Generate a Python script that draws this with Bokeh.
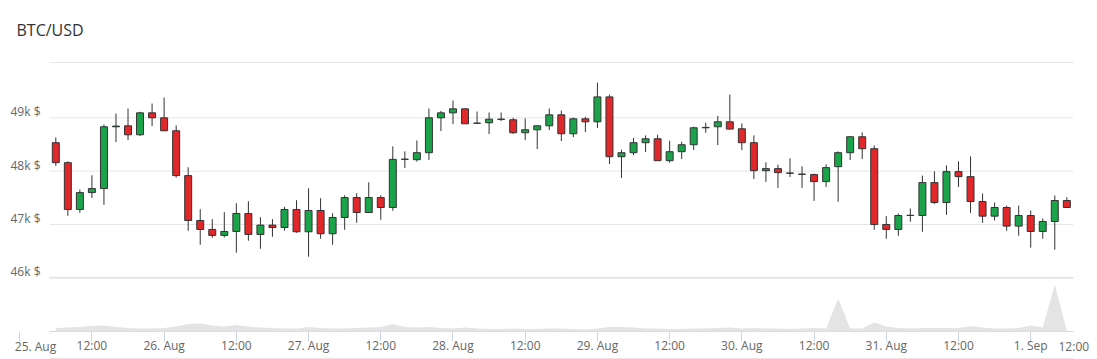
import pandas as pd
from bokeh.plotting import figure
from bokeh.models import Range1d, FixedTicker, CustomJSTickFormatter, ColumnDataSource
from bokeh.embed import file_html
from bokeh.resources import INLINE
from bokeh.core.properties import value

# ---------------- data ----------------
title_text = "BTC/USD"
first_candle = "2021-08-25 06:00"
candle_hours = 2

opens = [48533, 48159, 47281, 47598, 47673, 48832, 48850, 48682, 49093, 49000,
         48757, 47916, 47075, 46907, 46795, 46869, 47206, 46813, 46988, 46944,
         47281, 46863, 47262, 46826, 47131, 47505, 47224, 47505, 47318, 48221,
         48215, 48346, 49000, 49093, 49168, 48898, 48907, 48970, 48963, 48720,
         48776, 48850, 49056, 48701, 48981, 48925, 49392, 48271, 48346, 48533,
         48607, 48196, 48365, 48495, 48813, 48832, 48925, 48794, 48533, 48009,
         48047, 47965, 47945, 47935, 47804, 48084, 48346, 48645, 48421, 47000,
         46907, 47168, 47168, 47785, 47411, 47991, 47897, 47430, 47156, 47318,
         46969, 47168, 46869, 47056, 47449]
highs = [48632, 48184, 47654, 47922, 48875, 49081, 49174, 49112, 49268, 49380,
         48857, 48072, 47287, 47100, 47231, 47399, 47436, 47137, 47100, 47330,
         47455, 47679, 47492, 47212, 47548, 47586, 47791, 47548, 48464, 48371,
         48576, 49174, 49131, 49324, 49170, 49118, 49100, 49100, 49000, 48988,
         48855, 49174, 49137, 49006, 49019, 49660, 49436, 48402, 48626, 48670,
         48682, 48570, 48551, 48832, 48907, 49037, 49436, 48894, 48670, 48165,
         48122, 48240, 48090, 47953, 48128, 48371, 48650, 48726, 48483, 47156,
         47206, 47299, 47916, 47997, 48109, 48184, 48277, 47580, 47411, 47355,
         47355, 47262, 47112, 47542, 47511]
lows = [48097, 47162, 47218, 47499, 47368, 48545, 48583, 48657, 48844, 48750,
        47879, 46882, 46620, 46751, 46757, 46471, 46695, 46545, 46770, 46882,
        46844, 46396, 46732, 46620, 46900, 47031, 47224, 47087, 47256, 48059,
        48178, 48209, 48751, 48882, 48885, 48888, 48695, 48938, 48695, 48583,
        48414, 48770, 48564, 48639, 48732, 48807, 48134, 47872, 48302, 48358,
        48196, 48159, 48227, 48396, 48720, 48489, 48788, 48396, 47854, 47798,
        47686, 47891, 47686, 47442, 47704, 47424, 48209, 48227, 46900, 46732,
        46788, 47050, 46863, 47386, 47181, 47704, 47218, 47031, 47075, 46882,
        46788, 46564, 46732, 46527, 47318]
closes = [48159, 47281, 47598, 47673, 48832, 48845, 48682, 49093, 49000, 48757,
          47916, 47075, 46907, 46795, 46869, 47206, 46813, 46988, 46944, 47281,
          46863, 47262, 46826, 47131, 47505, 47224, 47505, 47318, 48221, 48225,
          48346, 49000, 49093, 49168, 48888, 48900, 48975, 48975, 48720, 48776,
          48850, 49056, 48701, 48981, 48925, 49392, 48271, 48346, 48533, 48607,
          48196, 48365, 48495, 48813, 48820, 48925, 48788, 48533, 48009, 48047,
          47972, 47960, 47940, 47804, 48066, 48346, 48645, 48421, 47000, 46907,
          47168, 47172, 47785, 47411, 47991, 47897, 47430, 47156, 47318, 46969,
          47168, 46869, 47056, 47449, 47318]
volumes = [140, 160, 180, 220, 240, 180, 140, 120, 120, 140,
           200, 300, 320, 240, 200, 260, 200, 160, 140, 120,
           120, 180, 140, 120, 120, 140, 160, 180, 300, 180,
           160, 180, 140, 120, 160, 120, 100, 100, 120, 100,
           100, 120, 120, 100, 80, 120, 180, 180, 160, 120,
           120, 100, 100, 120, 120, 140, 160, 120, 140, 120,
           120, 100, 120, 140, 120, 1320, 120, 120, 360, 200,
           140, 120, 140, 140, 140, 140, 220, 160, 120, 120,
           140, 240, 160, 1880, 40]
price_grid = [46000, 47000, 48000, 49000]
x_tick_times = pd.date_range("2021-08-25 00:00", "2021-09-01 00:00", freq="12h", tz="UTC")
edge_labels = ["25. Aug", "12:00"]

# ---------------- pixel <-> data helpers (layout only) ----------------
HOUR = 3600 * 1000.0
T0 = pd.Timestamp(first_candle, tz="UTC").value / 1e6
PX_PER_HOUR = 6.018
PX_PER_K = 53.33          # px per 1000 USD
VOL_PER_PX = 40.0
W, H = 1097, 359

def tx(px):   # page x -> time (ms)
    return T0 + (px - 55.3) / PX_PER_HOUR * HOUR

def py(ypx):  # page y -> price
    return 46000 + (277.3 - ypx) / PX_PER_K * 1000

def vy(ypx):  # page y -> volume units
    return (331 - ypx) * VOL_PER_PX

times = [t.value / 1e6 for t in pd.date_range(pd.Timestamp(first_candle, tz="UTC"),
                                                periods=len(opens), freq=f"{candle_hours}h")]
up = [c >= o for o, c in zip(opens, closes)]
src = ColumnDataSource(dict(
    t=times, o=opens, h=highs, l=lows, c=closes, v=volumes,
    top=[max(o, c) for o, c in zip(opens, closes)],
    bot=[min(o, c) for o, c in zip(opens, closes)],
    col=["#1aa34a" if u else "#e0282b" for u in up],
))

p = figure(width=W, height=H, x_axis_type="datetime", title=None,
           x_range=Range1d(tx(0), tx(W)), y_range=Range1d(py(H), py(0)),
           output_backend="svg", toolbar_location=None, min_border=0)
p.extra_y_ranges = {"vol": Range1d(vy(H), vy(0))}
p.outline_line_color = None
p.background_fill_color = "white"
p.border_fill_color = "white"
p.xgrid.visible = False
p.ygrid.visible = False

L, R = tx(49), tx(1073)

# horizontal gridlines (price pane) + pane borders
gl = price_grid[1:] + [py(62)]
p.segment(x0=[L] * len(gl), y0=gl, x1=[R] * len(gl), y1=gl, line_color="#e6e6e6", line_width=1)
p.segment(x0=[L], y0=[price_grid[0]], x1=[R], y1=[price_grid[0]], line_color="#e6e6e6", line_width=2)
p.segment(x0=[L], y0=[vy(358)], x1=[R], y1=[vy(358)], y_range_name="vol",
          line_color="#e6e6e6", line_width=1)

# y axis (drawn at the left edge of the plot area)
yax = p.yaxis[0]
yax.fixed_location = L
off = 6 / PX_PER_K * 1000
yax.ticker = FixedTicker(ticks=[g + off for g in price_grid])
yax.formatter = CustomJSTickFormatter(code="return Math.round(tick/1000) + 'k $';")
yax.axis_line_color = None
yax.major_tick_line_color = None
yax.minor_tick_line_color = None
yax.major_label_standoff = 3
yax.major_label_text_font = "Open Sans"
yax.major_label_text_font_size = "12px"
yax.major_label_text_color = "#666666"

# x axis (drawn at the bottom of the volume pane)
xax = p.xaxis[0]
xax.fixed_location = py(331)
xax.ticker = FixedTicker(ticks=[t.value / 1e6 for t in x_tick_times])
xax.formatter = CustomJSTickFormatter(code="""
const d = new Date(tick);
if (tick < %f) { return ''; }
const h = d.getUTCHours();
const m = ['Jan','Feb','Mar','Apr','May','Jun','Jul','Aug','Sep','Oct','Nov','Dec'];
if (h === 0) { return d.getUTCDate() + '. ' + m[d.getUTCMonth()]; }
return (h < 10 ? '0' + h : '' + h) + ':00';
""" % tx(40))
xax.axis_line_color = None
xax.major_tick_line_color = "#ccd6eb"
xax.major_tick_out = 10
xax.major_tick_in = 0
xax.minor_tick_line_color = None
xax.major_label_standoff = -5
xax.major_label_text_font = "Open Sans"
xax.major_label_text_font_size = "12px"
xax.major_label_text_color = "#666666"
p.segment(x0=[L], y0=[0], x1=[R], y1=[0], y_range_name="vol", line_color="#ccd6eb", line_width=1)

# volume area
p.varea(x="t", y1=0, y2="v", source=src, y_range_name="vol", fill_color="#e4e4e4")

# candles
bw = 0.58 * candle_hours * HOUR
p.segment(x0="t", y0="l", x1="t", y1="h", source=src, line_color="#333333", line_width=1)
p.vbar(x="t", width=bw, top="top", bottom="bot", source=src, fill_color="col",
       line_color="#333333", line_width=1)

# title
p.text(x=[tx(16)], y=[py(29.5)], text=[title_text], text_font=value("Open Sans"),
       text_font_size="16px", text_color="#333333", text_baseline="middle", text_align="left")
# edge labels of the time axis (shifted inward as in the reference)
p.text(x=[tx(35), tx(1058)], y=[vy(346), vy(346)], text=edge_labels, y_range_name="vol",
       text_font=value("Open Sans"), text_font_size="12px", text_color="#666666",
       text_baseline="middle", text_align=["center", "left"])

open("out.html", "w").write(file_html(p, INLINE))
